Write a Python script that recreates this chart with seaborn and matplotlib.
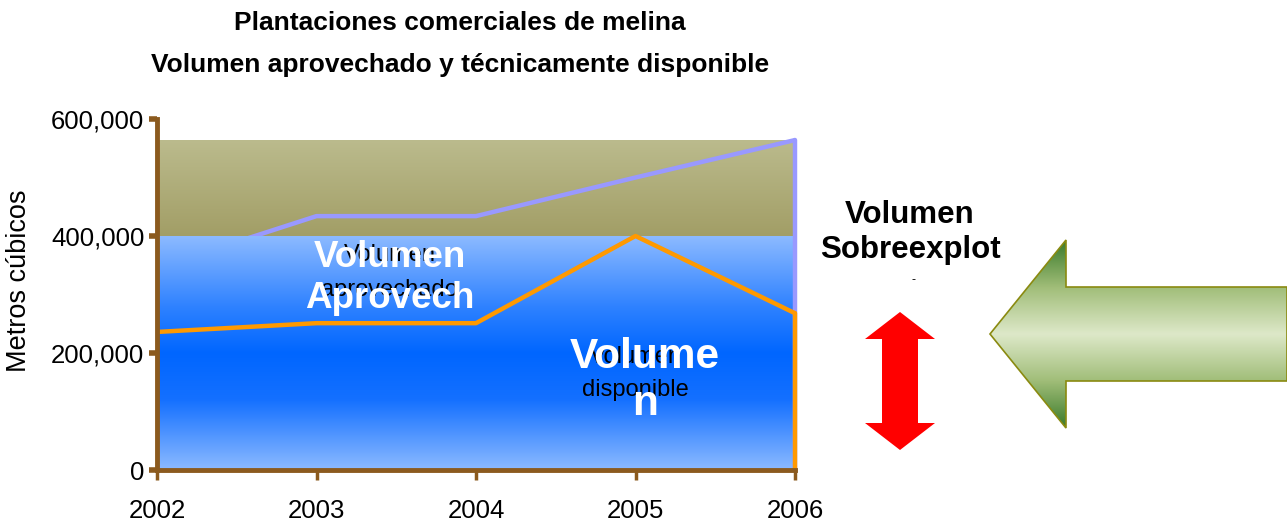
import numpy as np
import pandas as pd
import matplotlib
matplotlib.use("Agg")
import matplotlib.pyplot as plt
import seaborn as sns
from matplotlib.colors import LinearSegmentedColormap
from matplotlib.patches import Polygon

# data
years = [2002, 2003, 2004, 2005, 2006]
vol_disponible = [346000, 434000, 434000, 500000, 564000]
vol_aprovechado = [236000, 251000, 251000, 400000, 268000]
nivel_aprovechado = 400000  # top of the blue band
y_ticks = [0, 200000, 400000, 600000]
y_tick_labels = ["0", "200,000", "400,000", "600,000"]

sns.set_style("white")
plt.rcParams["font.family"] = ["Liberation Sans", "DejaVu Sans"]
plt.rcParams.update({"text.color": "black", "axes.labelcolor": "black",
                     "xtick.labelcolor": "black", "ytick.labelcolor": "black"})

brown = "#8B5A1E"
fig = plt.figure(figsize=(12.87, 5.22), dpi=100)
ax = fig.add_axes([157 / 1287, 52 / 522, 638 / 1287, 351 / 522])

# gradient bands
blue_cmap = LinearSegmentedColormap.from_list(
    "blu", [(0, "#8cbaff"), (0.3, "#2f82ff"), (0.5, "#0066ff"),
            (0.7, "#1470ff"), (1, "#8cbaff")])
olive_cmap = LinearSegmentedColormap.from_list("oli", ["#bbbb8d", "#a29e66"])
grad = np.linspace(0, 1, 256).reshape(-1, 1)
ax.imshow(grad, cmap=blue_cmap, extent=[years[0], years[-1], 0, nivel_aprovechado],
          aspect="auto", origin="upper", zorder=1)
ax.imshow(grad, cmap=olive_cmap,
          extent=[years[0], years[-1], nivel_aprovechado, max(vol_disponible)],
          aspect="auto", origin="upper", zorder=0)

df = pd.DataFrame({"year": years, "disp": vol_disponible, "aprov": vol_aprovechado})
sns.lineplot(data=df, x="year", y="disp", color="#9999ff", lw=3.2, ax=ax, zorder=0.5)
sns.lineplot(data=df, x="year", y="aprov", color="#ff9900", lw=3.2, ax=ax, zorder=3)
# vertical drops at the last year
ax.plot([years[-1], years[-1]], [vol_disponible[-1], 0], color="#9999ff", lw=3.2,
        zorder=2, clip_on=False)
ax.plot([years[-1], years[-1]], [vol_aprovechado[-1], 0], color="#ff9900", lw=3.2,
        zorder=3, clip_on=False)

ax.set_xlim(years[0], years[-1])
ax.set_ylim(0, 600000)
ax.set_xticks(years)
ax.set_xticklabels([str(y) for y in years], fontsize=18.5)
ax.set_yticks(y_ticks)
ax.set_yticklabels(y_tick_labels, fontsize=18.5)
ax.tick_params(axis="y", left=True, direction="out", length=6, width=4, color=brown, pad=3)
ax.tick_params(axis="x", bottom=True, direction="out", length=7, width=2.5, color=brown, pad=14)
ax.set_xlabel("")
ax.set_ylabel("Metros cúbicos", fontsize=19.5)
ax.yaxis.set_label_coords(-0.196, 0.54)
for s in ["top", "right"]:
    ax.spines[s].set_visible(False)
for s in ["left", "bottom"]:
    ax.spines[s].set_color(brown)
    ax.spines[s].set_linewidth(3.5)
    ax.spines[s].set_zorder(5)

# in-plot labels
ax.text(2003.46, 367000, "Volumen", fontsize=17, ha="center", va="center", zorder=4)
ax.text(2003.46, 308000, "aprovechado", fontsize=17, ha="center", va="center", zorder=4)
ax.text(2003.46, 364000, "Volumen", fontsize=26.5, color="white", weight="bold",
        ha="center", va="center", zorder=4)
ax.text(2003.46, 294000, "Aprovech", fontsize=26.5, color="white", weight="bold",
        ha="center", va="center", zorder=4)
ax.text(2005.0, 193000, "Volumen", fontsize=17, ha="center", va="center", zorder=4)
ax.text(2005.0, 137000, "disponible", fontsize=17, ha="center", va="center", zorder=4)
ax.text(2005.06, 193000, "Volume", fontsize=30.5, color="white", weight="bold",
        ha="center", va="center", zorder=4)
ax.text(2005.06, 113000, "n", fontsize=30.5, color="white", weight="bold",
        ha="center", va="center", zorder=4)

# titles
fig.text(460 / 1287, 1 - 23 / 522, "Plantaciones comerciales de melina",
         fontsize=19, weight="bold", ha="center", va="center")
fig.text(460 / 1287, 1 - 65 / 522, "Volumen aprovechado y técnicamente disponible",
         fontsize=19, weight="bold", ha="center", va="center")

# overlay in pixel space for the side decorations
ov = fig.add_axes([0, 0, 1, 1], zorder=-1)
ov.set_xlim(0, 1287)
ov.set_ylim(522, 0)
ov.axis("off")
ov.patch.set_visible(False)

ov.text(910, 215, "Volumen", fontsize=22.5, weight="bold", ha="center", va="center")
ov.text(910, 250, "Sobreexplot", fontsize=22.5, weight="bold", ha="center", va="center")
ov.text(914, 280, "-", fontsize=9, ha="center", va="center")

# red double arrow
cx, top, bot, hw, sw, hh = 900, 312, 450, 35, 18, 27
red = Polygon([(cx, top), (cx + hw, top + hh), (cx + sw, top + hh), (cx + sw, bot - hh),
               (cx + hw, bot - hh), (cx, bot), (cx - hw, bot - hh), (cx - sw, bot - hh),
               (cx - sw, top + hh), (cx - hw, top + hh)], closed=True,
              facecolor="#ff0000", edgecolor="none")
ov.add_patch(red)

# green left arrow with gradient
mid = 334
green_pts = [(990, mid), (1066, 240), (1066, 287), (1287, 287), (1287, 381),
             (1066, 381), (1066, 428)]
green = Polygon(green_pts, closed=True, facecolor="none", edgecolor="#8a8a10", lw=1.2)
ov.add_patch(green)
green_cmap = LinearSegmentedColormap.from_list(
    "grn", [(0, "#3a7a2a"), (0.5, "#a0bd78"), (1, "#dde8c8")])
g = np.concatenate([np.linspace(0, 1, 128), np.linspace(1, 0, 128)]).reshape(-1, 1)
im = ov.imshow(g, cmap=green_cmap, extent=[990, 1287, 428, 240], aspect="auto", zorder=0)
im.set_clip_path(green)

fig.savefig("out.png", dpi=100)
